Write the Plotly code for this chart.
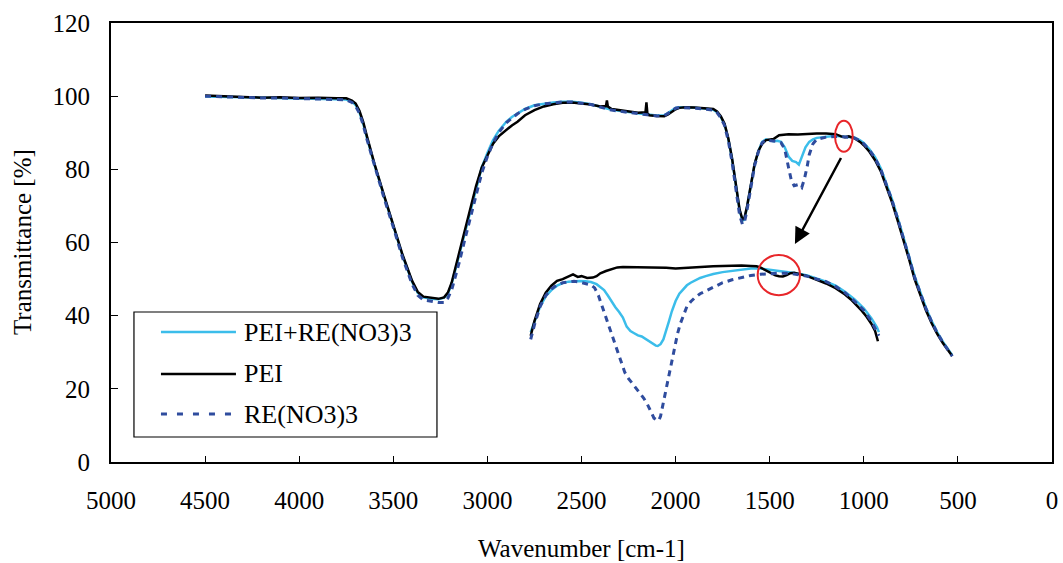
import plotly.graph_objects as go

# ---------------- data ----------------
pei_x = [4500,4400,4300,4200,4100,4000,3900,3800,3750,3720,3700,3680,3660,3640,3600,3550,3500,3450,3400,3370,3340,3300,3260,3230,3210,3190,3170,3150,3120,3090,3060,3030,3000,2970,2940,2900,2870,2840,2800,2750,2700,2650,2600,2550,2500,2450,2400,2370,2365,2360,2340,2300,2250,2200,2160,2155,2150,2140,2100,2060,2040,2020,2000,1980,1950,1900,1850,1800,1780,1760,1740,1720,1700,1680,1660,1645,1635,1620,1600,1580,1560,1540,1520,1500,1480,1450,1400,1350,1300,1250,1200,1150,1120,1100,1080,1050,1020,1000,970,940,910,880,850,820,790,760,730,700,670,640,610,580,550,530]
pei_y = [100.2,99.9,99.8,99.6,99.7,99.5,99.6,99.4,99.4,98.8,98.0,96.0,93.0,89.0,81.5,73.0,65.0,56.5,49.5,46.5,45.2,44.8,44.6,45.0,46.3,49.0,53.0,57.0,63.5,69.5,75.5,80.5,84.0,87.0,89.0,90.8,92.0,93.0,94.8,96.2,97.2,97.8,98.2,98.3,98.1,97.7,97.2,97.3,98.8,97.2,96.5,96.2,95.8,95.5,95.6,98.3,95.3,94.8,94.6,94.5,95.0,95.8,96.4,96.8,97.0,96.9,96.8,96.5,95.8,94.5,92.5,88.5,83.0,76.0,69.0,66.3,66.5,70.0,76.0,81.5,85.0,87.0,88.0,88.2,88.3,89.3,89.6,89.5,89.7,89.8,89.8,89.6,89.0,88.8,89.0,88.5,87.5,86.6,84.8,82.5,79.5,75.5,71.0,66.0,61.0,55.5,50.0,45.5,41.5,38.0,35.0,32.5,30.3,29.0]

mix_x = [4500,4400,4300,4200,4100,4000,3900,3800,3750,3720,3700,3680,3660,3640,3600,3550,3500,3450,3400,3370,3340,3300,3260,3230,3210,3190,3170,3150,3120,3090,3060,3030,3000,2970,2940,2900,2870,2840,2800,2750,2700,2650,2600,2550,2500,2450,2400,2350,2300,2250,2200,2150,2100,2060,2040,2020,2000,1980,1950,1900,1850,1800,1780,1760,1740,1720,1700,1680,1660,1645,1635,1620,1600,1580,1560,1540,1520,1500,1480,1460,1440,1420,1400,1380,1360,1345,1330,1310,1290,1270,1250,1200,1150,1120,1100,1050,1020,1000,970,940,910,880,850,820,790,760,730,700,670,640,610,580,550,530]
mix_y = [99.9,99.8,99.7,99.6,99.5,99.4,99.4,99.2,99.1,98.5,97.6,95.6,92.5,88.6,81.2,72.8,64.8,56.3,49.2,46.2,45.0,44.6,44.5,44.9,46.0,48.7,52.6,56.6,63.0,69.0,75.2,80.5,84.5,88.0,90.5,93.0,94.3,95.3,96.5,97.5,98.0,98.3,98.5,98.5,98.2,97.8,97.1,96.4,96.0,95.6,95.3,95.0,94.7,94.8,95.4,96.2,96.8,97.0,97.0,96.8,96.6,96.3,95.6,94.3,92.3,88.3,82.8,75.8,68.8,66.0,66.2,69.8,75.8,81.3,85.0,87.5,88.2,88.0,87.7,87.8,87.5,86.0,83.5,82.3,82.0,81.3,83.5,86.0,87.5,88.2,88.6,89.0,89.2,89.0,88.9,88.7,87.9,87.2,85.5,83.3,80.3,76.3,71.8,66.8,61.8,56.3,50.8,46.2,42.2,38.6,35.5,32.9,30.5,29.2]

re_x = [4500,4400,4300,4200,4100,4000,3900,3800,3750,3720,3700,3680,3660,3640,3600,3550,3500,3450,3400,3370,3340,3300,3260,3230,3210,3190,3170,3150,3120,3090,3060,3030,3000,2970,2940,2900,2870,2840,2800,2750,2700,2650,2600,2550,2500,2450,2400,2350,2300,2250,2200,2150,2100,2060,2040,2020,2000,1980,1950,1900,1850,1800,1780,1760,1740,1720,1700,1680,1660,1645,1635,1620,1600,1580,1560,1540,1520,1500,1480,1460,1440,1420,1400,1385,1370,1350,1330,1315,1300,1290,1270,1250,1200,1150,1120,1100,1050,1020,1000,970,940,910,880,850,820,790,760,730,700,670,640,610,580,550,530]
re_y = [100.0,99.8,99.7,99.5,99.5,99.4,99.3,99.1,99.0,98.3,97.3,95.3,92.2,88.2,80.8,72.3,64.2,55.7,48.6,45.6,44.3,43.9,43.6,43.6,44.8,47.0,50.6,54.5,60.8,67.0,73.5,79.0,83.5,87.2,90.0,92.7,94.0,95.2,96.4,97.4,97.9,98.2,98.4,98.4,98.1,97.7,97.0,96.3,95.9,95.5,95.2,94.9,94.6,94.7,95.3,96.1,96.7,96.9,96.9,96.7,96.5,96.2,95.5,94.1,92.0,87.8,82.0,74.8,67.5,65.0,65.3,69.0,75.3,81.0,84.8,87.3,88.0,87.9,87.6,87.6,87.3,85.5,80.5,77.0,75.5,75.8,75.0,77.5,81.0,84.0,87.0,88.2,88.8,89.0,88.9,88.8,88.6,87.8,87.0,85.3,83.0,80.0,76.0,71.5,66.5,61.5,56.0,50.5,46.0,42.0,38.4,35.3,32.7,30.3,28.9]

# magnified view of the 1550-1100 cm-1 region, drawn inside the chart
inset_pei_x = [2770,2750,2720,2690,2660,2630,2600,2570,2545,2520,2500,2470,2440,2420,2400,2370,2340,2310,2280,2250,2200,2150,2100,2050,2000,1950,1900,1850,1800,1750,1700,1650,1600,1570,1550,1530,1510,1490,1470,1450,1430,1410,1390,1370,1350,1300,1250,1200,1150,1100,1070,1040,1010,985,960,940,925]
inset_pei_y = [34.5,38.5,43.2,46.3,48.2,49.5,50.0,50.8,51.3,50.6,50.8,50.3,50.4,50.8,51.6,52.2,52.8,53.2,53.3,53.3,53.2,53.1,53.3,53.1,52.9,53.0,53.1,53.3,53.5,53.6,53.7,53.7,53.6,53.5,53.2,52.6,52.0,51.4,51.0,50.8,50.7,51.1,51.6,51.7,51.5,50.8,49.8,48.8,47.5,45.8,44.5,43.0,41.3,39.7,37.8,35.8,33.0]

inset_mix_x = [2770,2750,2720,2690,2660,2630,2600,2570,2540,2510,2480,2450,2420,2400,2380,2360,2340,2320,2300,2280,2260,2240,2220,2200,2180,2160,2140,2120,2105,2095,2080,2065,2050,2035,2020,2000,1980,1960,1940,1920,1900,1870,1840,1800,1750,1700,1650,1600,1550,1500,1450,1400,1350,1300,1250,1200,1150,1100,1050,1000,960,930,920]
inset_mix_y = [35.5,38.5,42.5,45.3,47.0,48.2,48.9,49.3,49.5,49.5,49.4,49.2,48.6,47.9,47.0,45.5,43.8,42.3,41.0,39.5,37.0,35.8,35.2,34.6,34.3,33.6,33.1,32.4,31.8,31.7,32.2,33.5,35.8,38.5,41.2,44.0,46.0,47.3,48.3,49.0,49.6,50.3,50.8,51.4,51.9,52.3,52.7,52.9,52.9,52.6,52.3,52.0,51.5,51.0,50.2,49.3,48.2,46.5,44.5,42.0,39.3,36.8,35.5]

inset_re_x = [2770,2750,2720,2690,2660,2630,2600,2570,2540,2510,2480,2450,2430,2410,2390,2370,2350,2330,2310,2290,2270,2250,2230,2210,2190,2170,2150,2130,2115,2100,2090,2080,2070,2060,2050,2040,2030,2020,2010,2000,1990,1975,1960,1940,1920,1900,1870,1840,1800,1750,1700,1650,1600,1550,1500,1450,1400,1350,1300,1250,1200,1150,1100,1050,1000,960,930,920]
inset_re_y = [33.5,37.5,42.5,45.5,47.3,48.4,49.0,49.3,49.4,49.2,48.9,48.4,47.6,45.5,42.5,39.5,36.5,33.5,30.3,27.5,24.5,22.8,21.5,20.0,18.8,17.5,15.8,13.5,12.0,11.5,11.3,12.5,15.0,18.0,20.5,22.3,25.0,27.5,30.0,32.5,35.0,37.8,40.0,42.5,43.8,44.8,46.0,46.8,47.8,49.0,49.8,50.4,51.0,51.3,51.5,51.6,51.6,51.3,50.8,50.0,49.3,48.0,46.3,44.0,41.5,38.5,35.8,34.5]

series_names = ["PEI+RE(NO3)3", "PEI", "RE(NO3)3"]
x_ticks = [5000, 4500, 4000, 3500, 3000, 2500, 2000, 1500, 1000, 500, 0]
y_ticks = [0, 20, 40, 60, 80, 100, 120]

# ---------------- style ----------------
C_MIX = "#3BBDEA"
C_PEI = "#000000"
C_RE = "#2F4C9E"
RE_DASH = "6px,5px"
FONT = "Times New Roman"

fig = go.Figure()

def add(x, y, color, width, dash="solid"):
    fig.add_trace(go.Scatter(x=x, y=y, mode="lines", showlegend=False,
                             line=dict(color=color, width=width, dash=dash)))

# main spectra
add(mix_x, mix_y, C_MIX, 2.5)
add(pei_x, pei_y, C_PEI, 2.5)
add(re_x, re_y, C_RE, 3, RE_DASH)
# magnified view
add(inset_mix_x, inset_mix_y, C_MIX, 2.5)
add(inset_pei_x, inset_pei_y, C_PEI, 2.5)
add(inset_re_x, inset_re_y, C_RE, 3, RE_DASH)

# red marker ellipses
fig.add_shape(type="circle", xref="x", yref="y", x0=1153, x1=1059, y0=84.8, y1=93.3,
              line=dict(color="#E8262A", width=2))
fig.add_shape(type="circle", xref="x", yref="y", x0=1564, x1=1339, y0=45.6, y1=56.6,
              line=dict(color="#E8262A", width=2))
# arrow
fig.add_annotation(x=1366, y=59.6, ax=1117, ay=83.5, xref="x", yref="y", axref="x", ayref="y",
                   text="", showarrow=True, arrowhead=2, arrowsize=1.3, arrowwidth=2.5,
                   arrowcolor="black")

# legend drawn as a box with samples
fig.add_shape(type="rect", xref="paper", yref="paper", x0=0.0244, x1=0.3464, y0=0.0569, y1=0.3417,
              line=dict(color="black", width=1.2), fillcolor="white", layer="above")
rows = [0.2961, 0.2005, 0.1093]
styles = [(C_MIX, 2.5, "solid"), (C_PEI, 2.5, "solid"), (C_RE, 3, "6px,10px")]
for name, yy, (c, w, d) in zip(series_names, rows, styles):
    fig.add_shape(type="line", xref="paper", yref="paper", x0=0.0531, x1=0.1328, y0=yy, y1=yy,
                  line=dict(color=c, width=w, dash=d), layer="above")
    fig.add_annotation(x=0.1392, y=yy, xref="paper", yref="paper", text=name, showarrow=False,
                       xanchor="left", yanchor="middle", font=dict(family=FONT, size=26, color="black"))

# axis titles
fig.add_annotation(x=0.5, y=-0.196, xref="paper", yref="paper", text="Wavenumber [cm-1]",
                   showarrow=False, xanchor="center", yanchor="middle",
                   font=dict(family=FONT, size=25, color="black"))
fig.add_annotation(x=-0.094, y=0.5, xref="paper", yref="paper", text="Transmittance [%]",
                   showarrow=False, xanchor="center", yanchor="middle", textangle=-90,
                   font=dict(family=FONT, size=25, color="black"))

fig.update_layout(
    width=1063, height=563,
    margin=dict(l=111, r=11, t=23, b=101),
    paper_bgcolor="white", plot_bgcolor="white",
    font=dict(family=FONT, size=25, color="black"),
    showlegend=False,
    xaxis=dict(range=[5000, 0], tickvals=x_ticks, ticks="inside", ticklen=6, tickwidth=1,
               tickcolor="black", showline=True, linecolor="black", linewidth=2, mirror=True,
               showgrid=False, zeroline=False, ticklabelstandoff=15, automargin=False),
    yaxis=dict(range=[0, 120], tickvals=y_ticks, ticks="inside", ticklen=7, tickwidth=1,
               tickcolor="black", showline=True, linecolor="black", linewidth=2, mirror=True,
               showgrid=False, zeroline=False, ticklabelstandoff=14, automargin=False),
)

fig.write_html("out.html")
